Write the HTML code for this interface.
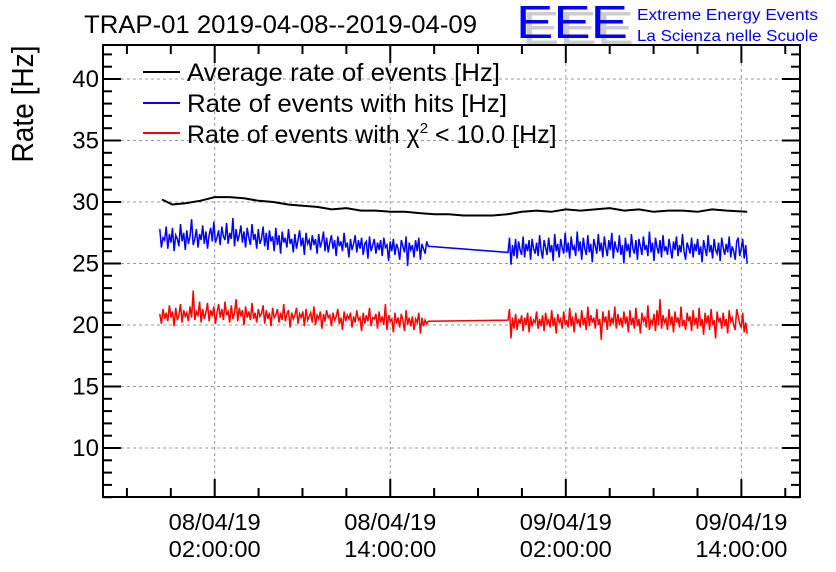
<!DOCTYPE html>
<html><head><meta charset="utf-8"><style>
body{margin:0;background:#fff}
svg{display:block;font-family:"Liberation Sans",sans-serif}
</style></head><body>
<svg width="836" height="572" viewBox="0 0 836 572">
<text x="84" y="33" font-size="25" textLength="393" lengthAdjust="spacingAndGlyphs">TRAP-01 2019-04-08--2019-04-09</text>
<g>
<text x="522" y="44" font-size="46" fill="#ccc" textLength="112" lengthAdjust="spacingAndGlyphs">EEE</text>
<text x="516" y="38" font-size="46" fill="#0000ff" textLength="112" lengthAdjust="spacingAndGlyphs">EEE</text>
<text x="637" y="20" font-size="16" fill="#0000ff" textLength="181" lengthAdjust="spacingAndGlyphs">Extreme Energy Events</text>
<text x="637" y="41" font-size="16" fill="#0000ff" textLength="181" lengthAdjust="spacingAndGlyphs">La Scienza nelle Scuole</text>
</g>
<text transform="translate(33,104) rotate(-90)" text-anchor="middle" font-size="31" textLength="117" lengthAdjust="spacingAndGlyphs">Rate [Hz]</text>
<g id="grid"></g><g id="axes"></g><g id="series"></g>
<rect x="103" y="45" width="697" height="452" fill="none" stroke="#000" stroke-width="2"/>
<g font-size="25">
<line x1="143" y1="72" x2="180" y2="72" stroke="#000" stroke-width="2"/><text x="187" y="81" textLength="313" lengthAdjust="spacingAndGlyphs">Average rate of events [Hz]</text>
<line x1="143" y1="103" x2="180" y2="103" stroke="#0000ff" stroke-width="2"/><text x="187" y="112" textLength="320" lengthAdjust="spacingAndGlyphs">Rate of events with hits [Hz]</text>
<line x1="143" y1="133" x2="180" y2="133" stroke="#ff0000" stroke-width="2"/><text x="187" y="143">Rate of events with χ<tspan font-size="15" dy="-10">2</tspan><tspan dy="10"> &lt; 10.0 [Hz]</tspan></text>
</g>
</svg>
<script>
const yTicks=[10,15,20,25,30,35,40];
const xTickHours=[2,14,26,38];
const xTickLabels=[["08/04/19","02:00:00"],["08/04/19","14:00:00"],["09/04/19","02:00:00"],["09/04/19","14:00:00"]];
const blackT=[-1.6,-0.9,0,1,2,3,4,5,6,7,8,9,10,11,12,13,14,15,16,17,18,19,20,21,22,23,24,25,26,27,28,29,30,31,32,33,34,35,36,37,38.4];
const blackV=[30.2,29.8,29.9,30.1,30.4,30.4,30.3,30.1,30.0,29.8,29.7,29.6,29.4,29.5,29.3,29.3,29.2,29.2,29.1,29.0,29.0,28.9,28.9,28.9,29.0,29.2,29.3,29.2,29.4,29.3,29.4,29.5,29.3,29.4,29.2,29.3,29.3,29.2,29.4,29.3,29.2];
const segBounds=[[-1.75,16.6],[22.05,38.4]];
const blue1=[27.8,26.3,27.1,26.9,28.0,26.2,27.4,26.7,27.9,26.0,27.3,27.0,26.4,28.2,26.8,27.5,26.1,27.7,26.6,27.2,
28.6,26.5,27.0,27.8,26.3,27.4,26.9,28.1,26.6,27.6,26.2,27.3,27.9,26.8,28.4,26.7,27.1,27.7,26.5,28.0,
27.2,26.9,28.3,26.6,27.5,27.0,28.7,26.4,27.8,26.8,27.3,28.1,26.7,27.6,26.3,27.9,27.1,26.5,28.2,26.9,
27.4,26.2,27.8,26.6,27.0,28.0,26.4,27.5,26.1,27.7,26.8,27.2,26.0,27.9,26.5,27.3,25.8,27.6,26.7,27.1,
26.3,27.8,26.6,27.0,25.9,27.4,26.2,26.9,27.7,26.4,27.1,25.7,27.5,26.6,26.9,26.1,27.3,26.5,27.0,25.8,
27.4,26.3,26.8,27.6,26.0,27.1,25.9,26.7,27.3,26.2,26.9,25.6,27.2,26.4,26.8,26.0,27.5,26.3,26.7,25.5,
27.0,26.1,26.6,27.3,25.9,26.9,26.2,27.1,25.7,26.6,26.8,25.4,27.2,26.0,26.5,27.0,25.8,26.7,26.1,26.9,
25.6,27.1,26.3,26.5,25.2,26.8,26.0,27.0,25.7,26.6,26.2,25.3,26.9,26.4,25.9,27.2,24.8,26.7,26.1,26.5,
25.5,26.9,26.0,27.1,25.3,26.6,26.2,25.8,26.8,26.4];
const blue2=[25.9,27.1,24.9,26.5,25.6,27.0,25.4,26.8,26.1,25.7,27.2,25.5,26.6,26.0,26.9,25.3,27.0,26.2,25.8,26.7,
25.6,27.3,26.1,25.4,26.9,26.3,25.7,27.1,25.9,26.5,25.2,27.4,26.0,26.6,25.5,27.0,26.3,25.8,27.5,25.9,
26.7,25.4,27.2,26.1,26.4,25.6,27.6,26.0,26.8,25.3,27.1,26.2,25.7,27.3,25.9,26.6,25.1,27.0,26.4,25.8,
27.4,26.0,26.7,25.5,27.2,26.3,25.6,26.9,26.1,27.5,25.4,26.8,26.2,25.9,27.3,25.7,26.5,25.0,27.1,26.0,
26.6,25.5,27.4,26.2,25.8,26.9,25.3,27.0,26.4,25.7,27.2,26.1,26.5,25.6,27.6,25.9,26.7,25.2,27.1,26.3,
25.8,26.9,25.5,27.3,26.0,26.4,25.7,27.0,26.2,25.4,26.8,26.1,27.2,25.6,26.5,25.9,27.4,26.0,25.3,26.7,
26.3,25.8,27.1,25.5,26.6,26.0,27.0,25.7,26.4,25.1,26.9,26.2,25.6,27.3,25.9,26.5,25.4,27.0,26.1,25.8,
26.7,25.2,27.1,26.3,25.7,26.6,25.9,27.2,25.5,26.4,26.0,25.3,26.8,27.1,25.6,26.2,27.0,25.4,26.5,25.0];
const red1=[20.9,20.1,21.3,20.5,21.0,20.3,21.6,20.6,21.1,19.9,21.4,20.4,20.8,21.7,20.2,21.2,20.7,21.0,20.3,21.5,
20.6,22.8,20.4,21.1,20.8,21.9,20.2,21.3,20.5,21.0,21.8,20.3,21.2,20.7,21.5,20.1,21.0,21.7,20.6,21.3,
20.4,21.9,20.8,21.1,20.2,21.6,20.5,21.0,22.1,20.3,21.4,20.7,21.2,20.0,21.5,20.6,21.1,20.4,21.8,20.5,
21.0,20.2,21.3,20.7,20.9,21.6,20.1,21.2,20.5,21.0,19.9,21.4,20.6,20.8,21.3,20.2,21.0,20.4,21.7,20.3,
20.9,21.2,19.8,21.0,20.5,20.8,21.4,20.1,20.9,20.6,21.1,19.9,21.3,20.4,20.7,21.0,20.2,21.5,20.0,20.8,
20.5,21.1,19.7,20.9,20.3,21.2,20.6,20.8,19.9,21.0,20.4,20.7,21.3,20.1,20.6,19.6,21.1,20.3,20.8,20.5,
21.0,19.8,20.7,20.2,21.2,20.4,20.6,19.5,21.0,20.1,20.8,20.3,21.4,19.9,20.6,20.5,20.9,19.7,21.1,20.2,
20.7,20.0,21.7,19.6,20.8,20.3,20.5,19.4,21.0,20.1,20.6,19.8,20.9,20.4,19.5,21.2,20.0,20.6,19.9,20.7,
19.6,20.5,20.2,21.0,19.3,20.6,19.9,20.4,20.1,20.3];
const red2=[20.4,21.3,18.9,20.6,19.7,20.9,19.6,20.5,20.1,20.8,19.5,20.6,20.0,21.0,19.4,20.7,19.9,20.4,20.2,21.1,
19.7,20.5,19.9,20.8,19.5,21.0,20.1,20.4,19.8,21.2,19.9,20.6,19.3,20.9,20.2,20.5,19.7,21.1,20.0,20.4,
19.8,21.4,19.9,20.7,19.4,21.0,20.1,20.5,19.8,21.2,20.0,20.6,19.6,21.5,19.9,20.8,20.2,20.6,19.7,21.3,
20.0,20.5,18.8,21.1,20.2,20.7,19.6,21.2,19.9,20.6,20.1,21.5,19.7,20.9,20.0,20.6,19.8,21.1,20.1,20.7,
19.4,21.2,20.0,20.6,19.7,21.4,19.9,20.5,19.3,21.0,20.3,20.6,19.8,21.6,19.6,20.4,20.1,20.9,19.5,21.2,
20.0,22.1,19.7,20.8,20.2,20.5,19.6,21.3,20.0,20.7,19.4,21.1,20.2,20.6,19.8,21.5,19.9,20.4,19.6,21.0,
20.3,20.7,19.5,21.2,20.0,20.6,19.7,21.4,19.9,20.5,19.2,21.0,20.1,20.8,19.6,21.3,20.0,20.4,18.9,21.1,
20.2,20.6,19.7,21.0,19.9,20.5,19.3,21.2,20.3,20.6,20.0,19.6,21.3,20.7,20.1,19.8,21.0,19.4,20.2,19.3];
const NS="http://www.w3.org/2000/svg";
const L=103,R=800,T=45,B=497;
function xs(t){return 214.7+(t-2)*14.63;}
function ys(v){return 448-(v-10)*12.3;}
function mk(tag,attrs,parent){const e=document.createElementNS(NS,tag);for(const k in attrs)e.setAttribute(k,attrs[k]);parent.appendChild(e);return e;}
const grid=document.getElementById('grid'),axes=document.getElementById('axes'),series=document.getElementById('series');
for(const v of yTicks){
 const y=ys(v);
 const g=mk('line',{x1:L,x2:R,y1:y,y2:y,stroke:'#999','stroke-dasharray':'3,3','stroke-width':1},grid);
 
 
 const t=mk('text',{x:L-4,y:y+8,'text-anchor':'end','font-size':24},axes);
 t.textContent=v;
 
 
}
for(let v=6;v<=42;v++){const y=ys(v);const len=v%5===0?18:9;
 mk('line',{x1:L,x2:L+len,y1:y,y2:y,stroke:'#000','stroke-width':2},axes);
 mk('line',{x1:R-len,x2:R,y1:y,y2:y,stroke:'#000','stroke-width':2},axes);}
xTickHours.forEach((h,i)=>{
 const x=xs(h);
 const g=mk('line',{x1:x,x2:x,y1:T,y2:B,stroke:'#999','stroke-dasharray':'3,3','stroke-width':1},grid);
 
 
 const t=mk('text',{x:x,y:530,'text-anchor':'middle','font-size':23,textLength:92,lengthAdjust:'spacingAndGlyphs'},axes);
 t.textContent=xTickLabels[i][0];
 
 
 const t2=mk('text',{x:x,y:557,'text-anchor':'middle','font-size':23,textLength:92,lengthAdjust:'spacingAndGlyphs'},axes);
 t2.textContent=xTickLabels[i][1];
 
 
});
for(let h=-4;h<=41;h+=3){const x=xs(h);if(x<L||x>R)continue;const len=(h-2)%12===0?18:9;
 mk('line',{x1:x,x2:x,y1:B-len,y2:B,stroke:'#000','stroke-width':2},axes);
 mk('line',{x1:x,x2:x,y1:T,y2:T+len,stroke:'#000','stroke-width':2},axes);}
function segPts(a,b){const pts=[];[[a,0],[b,1]].forEach(([arr,s])=>{const [t0,t1]=segBounds[s];const n=arr.length;arr.forEach((v,i)=>pts.push(xs(t0+(t1-t0)*i/(n-1)).toFixed(1)+','+ys(v).toFixed(1)));});return pts.join(' ');}
const bl=mk('polyline',{points:blackT.map((t,i)=>xs(t).toFixed(1)+','+ys(blackV[i]).toFixed(1)).join(' '),fill:'none',stroke:'#000','stroke-width':2},series);


const bu=mk('polyline',{points:segPts(blue1,blue2),fill:'none',stroke:'#0000ff','stroke-width':1.5},series);


const rd=mk('polyline',{points:segPts(red1,red2),fill:'none',stroke:'#ff0000','stroke-width':1.5},series);


</script>
</body></html>
